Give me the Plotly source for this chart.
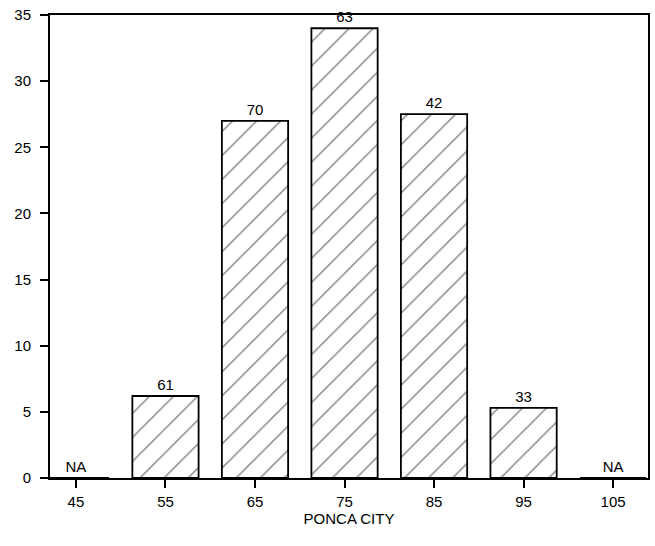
import plotly.graph_objects as go

categories = [45, 55, 65, 75, 85, 95, 105]
values = [0, 6.2, 27.0, 34.0, 27.5, 5.3, 0]
bar_labels = ["NA", "61", "70", "63", "42", "33", "NA"]
y_ticks = [0, 5, 10, 15, 20, 25, 30, 35]

font_family = "Liberation Sans, Arial, sans-serif"

fig = go.Figure()
fig.add_trace(go.Bar(
    x=categories,
    y=values,
    width=7.4,
    text=bar_labels,
    textposition="outside",
    cliponaxis=False,
    textfont=dict(family=font_family, size=15, color="black"),
    marker=dict(
        color="white",
        line=dict(color="black", width=1.8),
        pattern=dict(shape="/", fgcolor="black", bgcolor="white", size=17, solidity=0.08),
    ),
))

axis_common = dict(
    showline=True, linecolor="black", linewidth=2, mirror=True,
    ticks="outside", ticklen=8, tickwidth=1.5, tickcolor="black",
    showgrid=False, zeroline=False, automargin=False,
    tickfont=dict(family=font_family, size=15, color="black"),
)

fig.update_layout(
    width=655, height=546,
    margin=dict(l=50, r=7, t=15, b=68),
    paper_bgcolor="white", plot_bgcolor="white",
    showlegend=False,
    xaxis=dict(
        range=[42.1, 108.9],
        tickmode="array", tickvals=categories, ticktext=[str(c) for c in categories],
        ticklabelstandoff=1,
        title=dict(text="PONCA CITY", font=dict(family=font_family, size=15, color="black"), standoff=2),
        **axis_common,
    ),
    yaxis=dict(
        range=[0, 35],
        tickmode="array", tickvals=y_ticks, ticktext=[str(t) for t in y_ticks],
        ticklabelstandoff=6,
        **axis_common,
    ),
)

fig.write_html(
    "out.html",
    config={"displayModeBar": False},
    post_script="document.body.style.margin='0';document.body.style.padding='0';",
)
